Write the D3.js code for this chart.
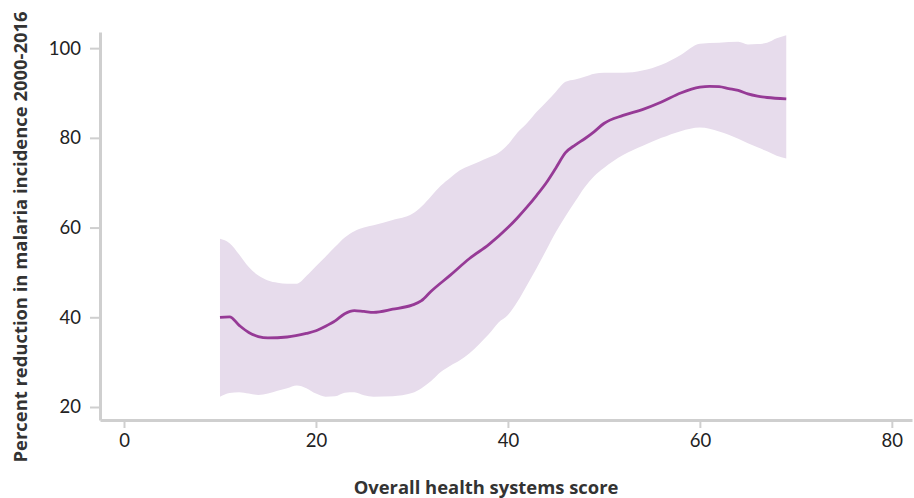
<!DOCTYPE html>
<html>
<head>
<meta charset="utf-8">
<script src="https://cdn.jsdelivr.net/npm/d3@7/dist/d3.min.js"></script>
<style>
  html, body { margin: 0; padding: 0; background: #fff; }
  svg { display: block; font-family: Lato, "Open Sans", sans-serif; }
</style>
</head>
<body>
<svg id="chart" width="914" height="498"></svg>
<script>
// Smoothed relationship: health systems score vs. malaria incidence reduction
const bandScore = [10, 11, 12, 13, 14, 15, 16, 17, 18, 19, 20, 21, 22, 23, 24, 25, 26, 28, 30, 31, 32, 33, 34, 35, 36, 37, 38, 39, 40, 41, 42, 43, 44, 45, 46, 47, 48, 49, 50, 52, 54, 56, 58, 60, 62, 64, 65, 66, 67, 68, 69];
const bandUpper = [57.5, 56.5, 54.0, 51.2, 49.3, 48.2, 47.7, 47.5, 47.5, 49.2, 51.4, 53.5, 55.7, 57.8, 59.2, 60.0, 60.5, 61.7, 63.0, 64.7, 67.0, 69.3, 71.1, 72.8, 73.8, 74.7, 75.6, 76.6, 78.5, 81.2, 83.3, 85.8, 88.0, 90.3, 92.5, 93.0, 93.6, 94.3, 94.5, 94.5, 95.0, 96.3, 98.5, 101.0, 101.2, 101.4, 100.8, 100.9, 101.2, 102.2, 102.9];
const bandLower = [22.3, 23.1, 23.3, 23.0, 22.7, 23.0, 23.6, 24.2, 24.8, 24.2, 23.0, 22.3, 22.4, 23.2, 23.3, 22.6, 22.3, 22.4, 23.1, 24.2, 25.8, 27.8, 29.2, 30.4, 32.0, 34.0, 36.2, 38.8, 40.5, 43.5, 47.2, 51.0, 55.0, 59.0, 62.5, 65.8, 69.0, 71.5, 73.3, 76.2, 78.2, 80.0, 81.5, 82.3, 81.4, 79.8, 78.8, 77.9, 77.0, 76.0, 75.4];

const lineScore = [10, 11, 12, 13, 14, 15, 17, 19, 20, 21, 22, 23, 24, 25, 26, 28, 30, 31, 32, 34, 36, 38, 40, 41, 42, 43, 44, 45, 46, 47, 48, 49, 50, 52, 54, 56, 58, 60, 61, 62, 63, 64, 65, 66, 67, 69];
const lineValue = [40.0, 40.1, 38.2, 36.6, 35.7, 35.4, 35.6, 36.4, 37.0, 38.0, 39.2, 40.8, 41.5, 41.3, 41.1, 41.8, 42.7, 43.7, 45.8, 49.4, 53.1, 56.2, 60.0, 62.2, 64.6, 67.2, 70.0, 73.3, 76.7, 78.4, 79.8, 81.4, 83.2, 85.0, 86.3, 88.0, 90.0, 91.3, 91.5, 91.4, 91.0, 90.6, 89.8, 89.3, 89.0, 88.7];

const xTicks = [0, 20, 40, 60, 80];
const yTicks = [20, 40, 60, 80, 100];

const xTitle = "Overall health systems score";
const yTitle = "Percent reduction in malaria incidence 2000-2016";

const svg = d3.select("#chart");
const plot = { left: 100, right: 912, top: 32, bottom: 420 };

const x = d3.scaleLinear().domain([-2.5, 82.1]).range([plot.left, plot.right]);
const y = d3.scaleLinear().domain([17.1, 103.6]).range([plot.bottom, plot.top]);

const band = bandScore.map((s, i) => ({ s, lo: bandLower[i], hi: bandUpper[i] }));
const mean = lineScore.map((s, i) => ({ s, v: lineValue[i] }));

svg.append("path")
  .datum(band)
  .attr("fill", "#e7dcec")
  .attr("d", d3.area()
    .x(d => x(d.s))
    .y0(d => y(d.lo))
    .y1(d => y(d.hi))
    .curve(d3.curveMonotoneX));

svg.append("path")
  .datum(mean)
  .attr("fill", "none")
  .attr("stroke", "#963a96")
  .attr("stroke-width", 2.8)
  .attr("stroke-linejoin", "round")
  .attr("d", d3.line()
    .x(d => x(d.s))
    .y(d => y(d.v))
    .curve(d3.curveMonotoneX));

// Axes
const gx = svg.append("g")
  .attr("transform", `translate(0,${plot.bottom})`)
  .call(d3.axisBottom(x).tickValues(xTicks).tickSize(8).tickPadding(6).tickSizeOuter(0));
const gy = svg.append("g")
  .attr("transform", `translate(${plot.left},0)`)
  .call(d3.axisLeft(y).tickValues(yTicks).tickSize(10).tickPadding(9).tickSizeOuter(0));

[gx, gy].forEach(g => {
  g.select(".domain").attr("stroke", "#cfcfcf").attr("stroke-width", 3);
  g.selectAll(".tick line").attr("stroke", "#cfcfcf").attr("stroke-width", 2);
  g.selectAll(".tick text")
    .attr("fill", "#222")
    .style("font-size", "18.5px")
    .style("font-family", "Lato, sans-serif");
});

const titleFont = "'Open Sans', sans-serif";

svg.append("text")
  .attr("x", 486)
  .attr("y", 494)
  .attr("text-anchor", "middle")
  .attr("fill", "#333")
  .style("font-family", titleFont)
  .style("font-size", "18.4px")
  .style("font-weight", "bold")
  .text(xTitle);

svg.append("text")
  .attr("transform", "translate(27,237) rotate(-90)")
  .attr("text-anchor", "middle")
  .attr("fill", "#333")
  .style("font-family", titleFont)
  .style("font-size", "18.4px")
  .style("font-weight", "bold")
  .text(yTitle);
</script>
</body>
</html>
